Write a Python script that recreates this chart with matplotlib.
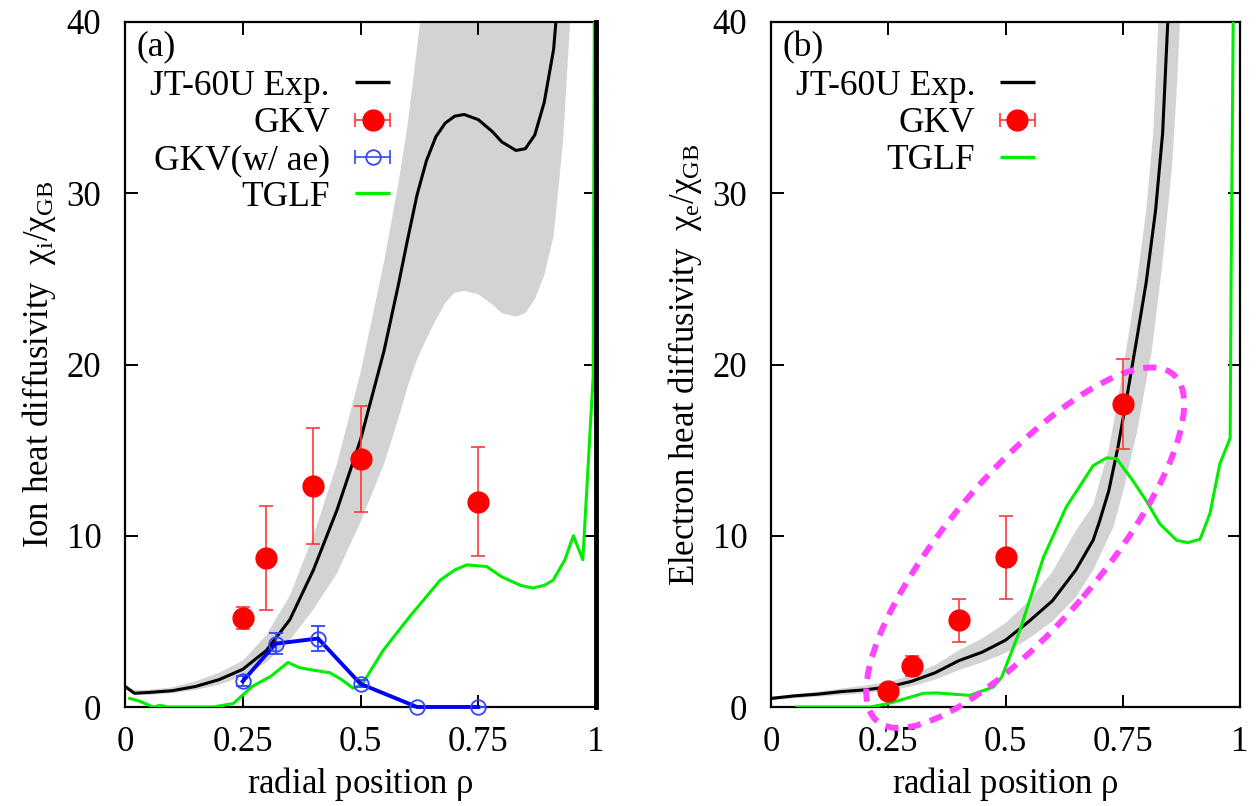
import numpy as np
import matplotlib
matplotlib.use("Agg")
import matplotlib.pyplot as plt
from matplotlib.patches import Ellipse
import matplotlib.transforms as mtransforms

plt.rcParams['font.family'] = ['Liberation Serif', 'DejaVu Serif']
plt.rcParams['mathtext.fontset'] = 'custom'
plt.rcParams['mathtext.rm'] = 'Liberation Serif'
plt.rcParams['mathtext.it'] = 'Liberation Serif:italic'

# ---------------- data: panel (a) ion ----------------
rho_i = [0.0, 0.02, 0.05, 0.1, 0.15, 0.2, 0.25, 0.3, 0.35, 0.4, 0.45, 0.5, 0.55,
         0.58, 0.6, 0.62, 0.64, 0.66, 0.68, 0.7, 0.72, 0.75, 0.78, 0.8, 0.83,
         0.85, 0.87, 0.89, 0.91, 0.93, 0.945, 0.96]
exp_i = [1.2, 0.8, 0.85, 0.95, 1.2, 1.6, 2.2, 3.3, 5.1, 8.0, 11.5, 15.6, 20.8,
         24.6, 27.3, 29.9, 31.9, 33.3, 34.1, 34.5, 34.6, 34.3, 33.6, 33.0, 32.5,
         32.6, 33.4, 35.3, 38.4, 45, 50, 55]
exp_i_hi = [1.3, 1.0, 1.0, 1.15, 1.5, 2.0, 2.7, 4.2, 6.5, 10.0, 14.2, 19.5, 26.0,
            30.5, 34.0, 38.5, 43, 50, 50, 50, 50, 50, 50, 50, 50, 50, 50, 50, 50,
            50, 50, 50]
exp_i_lo = [1.1, 0.75, 0.7, 0.8, 1.0, 1.3, 1.8, 2.6, 3.9, 5.7, 7.8, 10.8, 14.2,
            16.8, 18.7, 20.3, 21.5, 22.6, 23.6, 24.2, 24.3, 24.1, 23.5, 23.0,
            22.8, 23.0, 23.8, 25.2, 27.5, 33.0, 40.0, 46]

gkv_i_rho = [0.25, 0.30, 0.40, 0.50, 0.75]
gkv_i = [5.2, 8.7, 12.9, 14.5, 12.0]
gkv_i_err = [0.65, 3.05, 3.4, 3.1, 3.2]

gkvae_rho = [0.25, 0.32, 0.41, 0.50, 0.62, 0.75]
gkvae = [1.5, 3.7, 4.0, 1.35, 0.0, 0.0]
gkvae_err = [0.3, 0.6, 0.75, 0.2, 0.0, 0.0]

tglf_i_rho = [0.01, 0.03, 0.06, 0.075, 0.09, 0.187, 0.23, 0.27, 0.31, 0.346, 0.37,
              0.40, 0.435, 0.46, 0.484, 0.503, 0.548, 0.605, 0.669, 0.70, 0.726,
              0.768, 0.80, 0.84, 0.866, 0.89, 0.909, 0.934, 0.952, 0.972, 0.994,
              0.997]
tglf_i = [0.5, 0.35, 0.0, 0.1, 0.0, 0.0, 0.2, 1.2, 1.8, 2.6, 2.3, 2.15, 2.0, 1.6,
          1.1, 1.3, 3.3, 5.3, 7.4, 8.0, 8.3, 8.2, 7.6, 7.1, 6.95, 7.1, 7.4, 8.6,
          10.0, 8.6, 19.3, 45]

# ---------------- data: panel (b) electron ----------------
rho_e = [0.0, 0.05, 0.1, 0.15, 0.2, 0.25, 0.3, 0.35, 0.4, 0.45, 0.5, 0.55, 0.6,
         0.65, 0.687, 0.7, 0.72, 0.74, 0.76, 0.78, 0.8, 0.82, 0.835, 0.846, 0.855]
exp_e = [0.5, 0.65, 0.75, 0.9, 1.0, 1.17, 1.5, 2.0, 2.7, 3.2, 3.9, 5.0, 6.2, 8.0,
         9.75, 10.8, 12.6, 15.2, 18.3, 21.5, 24.8, 29.0, 33.5, 40.0, 46.0]
rho_e_hi = [0.0, 0.1, 0.2, 0.25, 0.3, 0.35, 0.4, 0.45, 0.5, 0.55, 0.6, 0.65, 0.687,
            0.72, 0.74, 0.76, 0.78, 0.80, 0.815, 0.826, 0.835]
exp_e_hi = [0.6, 0.9, 1.25, 1.45, 1.85, 2.45, 3.3, 4.0, 4.9, 6.2, 7.9, 10.3, 11.8,
            15.0, 18.0, 21.3, 24.8, 29.0, 33.5, 40.0, 46.0]
rho_e_lo = [0.0, 0.1, 0.2, 0.25, 0.3, 0.35, 0.4, 0.45, 0.5, 0.55, 0.6, 0.65, 0.687,
            0.73, 0.75, 0.78, 0.812, 0.835, 0.855, 0.865, 0.872, 0.88]
exp_e_lo = [0.4, 0.6, 0.8, 0.95, 1.2, 1.6, 2.15, 2.6, 3.15, 4.0, 5.0, 6.4, 8.0,
            10.5, 12.5, 16.0, 20.8, 26.0, 31.5, 36.0, 40.0, 46.0]

gkv_e_rho = [0.25, 0.30, 0.40, 0.50, 0.75]
gkv_e = [0.93, 2.4, 5.07, 8.73, 17.7]
gkv_e_err = [0.3, 0.6, 1.25, 2.4, 2.65]

tglf_e_rho = [0.055, 0.211, 0.25, 0.325, 0.353, 0.424, 0.474, 0.492, 0.531, 0.581,
              0.630, 0.687, 0.716, 0.737, 0.772, 0.80, 0.829, 0.865, 0.889, 0.915,
              0.936, 0.957, 0.979, 0.981, 0.987]
tglf_e = [0.0, 0.0, 0.2, 0.8, 0.82, 0.68, 1.17, 1.75, 4.5, 8.75, 11.7, 14.1, 14.55,
          14.5, 13.2, 12.05, 10.7, 9.73, 9.6, 9.8, 11.3, 14.2, 15.7, 25.0, 45.0]

xticks = [0, 0.25, 0.5, 0.75, 1]
xticklabels = ['0', '0.25', '0.5', '0.75', '1']
yticks = [0, 10, 20, 30, 40]

# ---------------- styling ----------------
FS_TICK = 25
FS_LAB = 25
FS_LEG = 25.5
GRAY = '#d3d3d3'
GREEN = '#00ee00'
RED = '#ff0000'
RED_E = '#ff3a3a'
BLUE = '#0000ff'
BLUE_M = '#3344ff'
MAGENTA = '#ff44ff'

fig = plt.figure(figsize=(12.6, 8.06), dpi=100)
ax1 = fig.add_axes([125 / 1260, 99 / 806, 471 / 1260, 685 / 806])
ax2 = fig.add_axes([771 / 1260, 99 / 806, 469 / 1260, 685 / 806])


def style(ax):
    ax.set_xlim(0, 1)
    ax.set_ylim(0, 40)
    ax.set_xticks(xticks)
    ax.set_xticklabels(xticklabels)
    ax.set_yticks(yticks)
    ax.tick_params(direction='in', length=9, width=1.4, top=True, right=True,
                   labelsize=FS_TICK, pad=14)
    ax.tick_params(axis='y', pad=17)
    for s in ax.spines.values():
        s.set_linewidth(1.6)
    ax.set_xlabel(r'radial position $\mathrm{\rho}$', fontsize=FS_LAB, labelpad=4)


def legend(ax, entries):
    x_txt = 0.435
    x0, x1 = 0.488, 0.563
    for y, label, kind, color in entries:
        ax.text(x_txt, y, label, transform=ax.transAxes, ha='right',
                va='center_baseline', fontsize=FS_LEG, zorder=10)
        if kind == 'line':
            ax.plot([x0, x1], [y, y], transform=ax.transAxes, color=color,
                    lw=2.4, solid_capstyle='butt', zorder=10)
        else:
            ecol, mfill, ms, mew = color
            ax.plot([x0, x1], [y, y], transform=ax.transAxes, color=ecol,
                    lw=1.2, marker='|', ms=9.5, mew=1.2, zorder=10)
            ax.plot([(x0 + x1) / 2], [y], transform=ax.transAxes, ls='none',
                    marker='o', ms=ms, mfc=mfill, mec=ecol if mfill == 'none' else mfill,
                    mew=mew, zorder=11)


# ---------------- panel (a) ----------------
style(ax1)
ax1.fill_between(rho_i, exp_i_lo, exp_i_hi, color=GRAY, lw=0, zorder=1)
ax1.plot(rho_i, exp_i, color='black', lw=2.2, zorder=3)
ax1.plot(tglf_i_rho, tglf_i, color=GREEN, lw=2.2, zorder=3)
ax1.errorbar(gkvae_rho, gkvae, yerr=gkvae_err, fmt='-o', color=BLUE, lw=2.8,
             mfc='none', mec=BLUE_M, ms=10.5, mew=1.3, ecolor=BLUE_M,
             elinewidth=1.3, capsize=4.7, capthick=1.3, zorder=4, clip_on=False)
ax1.errorbar(gkv_i_rho, gkv_i, yerr=gkv_i_err, fmt='o', color=RED, ms=15,
             ecolor=RED_E, elinewidth=1.2, capsize=4.7, capthick=1.2, zorder=6)
ax1.spines['right'].set_linewidth(3.5)
ax1.spines['right'].set_zorder(10)
ax1.set_ylabel(r'Ion heat diffusivity  $\mathrm{\chi_i/\chi_{GB}}$',
               fontsize=FS_LAB, labelpad=6)
ax1.text(0.025, 0.969, '(a)', transform=ax1.transAxes, ha='left',
         va='center_baseline', fontsize=FS_LEG, zorder=10)
legend(ax1, [
    (0.912, 'JT-60U Exp.', 'line', 'black'),
    (0.857, 'GKV', 'err', (RED_E, RED, 15, 1.0)),
    (0.803, 'GKV(w/ ae)', 'err', (BLUE_M, 'none', 10.5, 1.3)),
    (0.750, 'TGLF', 'line', GREEN),
])

# ---------------- panel (b) ----------------
style(ax2)
poly_x = list(rho_e_hi) + list(rho_e_lo[::-1])
poly_y = list(exp_e_hi) + list(exp_e_lo[::-1])
ax2.fill(poly_x, poly_y, color=GRAY, lw=0, zorder=1)
ax2.plot(rho_e, exp_e, color='black', lw=2.2, zorder=3)
ax2.plot(tglf_e_rho, tglf_e, color=GREEN, lw=2.2, zorder=3)
ax2.errorbar(gkv_e_rho, gkv_e, yerr=gkv_e_err, fmt='o', color=RED, ms=15,
             ecolor=RED_E, elinewidth=1.2, capsize=4.7, capthick=1.2, zorder=6)
ax2.set_ylabel(r'Electron heat diffusivity  $\mathrm{\chi_e/\chi_{GB}}$',
               fontsize=FS_LAB, labelpad=6)
ax2.text(0.025, 0.969, '(b)', transform=ax2.transAxes, ha='left',
         va='center_baseline', fontsize=FS_LEG, zorder=10)
legend(ax2, [
    (0.912, 'JT-60U Exp.', 'line', 'black'),
    (0.857, 'GKV', 'err', (RED_E, RED, 15, 1.0)),
    (0.803, 'TGLF', 'line', GREEN),
])

# dashed highlight ellipse (sizes in pixels, centred on a data point)
ell_center = (0.542, 9.3)
ell_tr = mtransforms.Affine2D() + mtransforms.ScaledTranslation(
    ell_center[0], ell_center[1], ax2.transData)
ell = Ellipse((0, 0), width=2 * 228, height=2 * 76, angle=49.5, fill=False,
              edgecolor=MAGENTA, lw=4.3, linestyle=(0, (2.2, 1.6)),
              transform=ell_tr, clip_on=False, zorder=5)
ax2.add_patch(ell)

fig.savefig('out.png', dpi=100)
